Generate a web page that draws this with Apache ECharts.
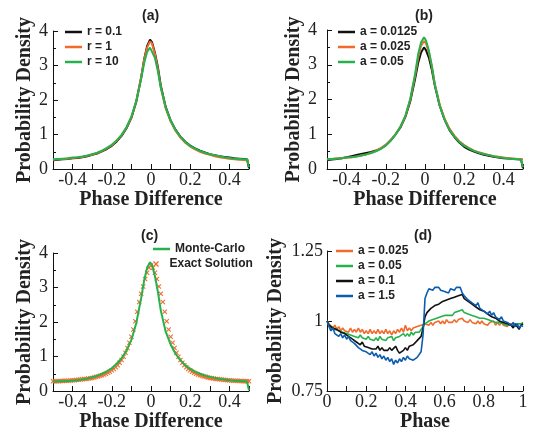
<!DOCTYPE html>
<html><head><meta charset="utf-8">
<script src="https://cdn.jsdelivr.net/npm/echarts@6/dist/echarts.min.js"></script>
<style>html,body{margin:0;padding:0;background:#fff}#c{width:536px;height:434px}</style>
</head><body><div id="c"></div>
<script>
// Phase-difference sample positions for panels (a), (b), (c)
const pdX = [-0.5,-0.475,-0.45,-0.425,-0.4,-0.375,-0.35,-0.325,-0.3,-0.275,-0.25,-0.225,-0.2,-0.175,-0.15,-0.125,-0.1,-0.075,-0.05,-0.035,-0.02,-0.005,0.005,0.02,0.035,0.05,0.075,0.1,0.125,0.15,0.175,0.2,0.225,0.25,0.275,0.3,0.325,0.35,0.375,0.4,0.425,0.45,0.475,0.49,0.5];

// (a)
const aR01 = [0.25,0.27,0.28,0.29,0.31,0.32,0.34,0.37,0.41,0.45,0.51,0.58,0.67,0.8,0.96,1.18,1.48,1.95,2.66,3.18,3.56,3.75,3.68,3.37,2.96,2.42,1.8,1.41,1.14,0.94,0.79,0.68,0.6,0.53,0.48,0.43,0.4,0.37,0.35,0.33,0.31,0.3,0.29,0.28,0.02];
const aR1 = [0.27,0.28,0.29,0.3,0.32,0.33,0.35,0.38,0.42,0.46,0.52,0.6,0.69,0.82,0.98,1.2,1.5,1.97,2.66,3.16,3.52,3.7,3.64,3.33,2.9,2.36,1.76,1.38,1.11,0.91,0.76,0.65,0.57,0.5,0.45,0.41,0.37,0.34,0.32,0.3,0.28,0.27,0.26,0.25,0.25];
const aR10 = [0.28,0.29,0.3,0.31,0.33,0.34,0.36,0.39,0.43,0.47,0.53,0.61,0.7,0.83,0.99,1.21,1.52,1.98,2.62,3.07,3.39,3.52,3.47,3.22,2.84,2.36,1.78,1.4,1.13,0.93,0.78,0.67,0.59,0.52,0.47,0.43,0.4,0.37,0.34,0.32,0.3,0.29,0.28,0.28,0.05];

// (b)
const bA0125 = [0.25,0.27,0.29,0.31,0.34,0.37,0.4,0.43,0.46,0.49,0.53,0.59,0.68,0.82,1.0,1.2,1.5,1.95,2.6,3.05,3.35,3.5,3.42,3.2,2.85,2.4,1.82,1.42,1.12,0.92,0.76,0.64,0.56,0.5,0.45,0.41,0.38,0.35,0.33,0.31,0.3,0.29,0.28,0.27,0.02];
const bA025 = [0.28,0.29,0.3,0.31,0.33,0.34,0.36,0.39,0.42,0.46,0.52,0.6,0.7,0.84,1.0,1.22,1.52,2.0,2.7,3.2,3.55,3.68,3.62,3.35,2.95,2.45,1.85,1.45,1.16,0.96,0.8,0.69,0.6,0.53,0.48,0.44,0.4,0.37,0.35,0.33,0.31,0.3,0.29,0.28,0.28];
const bA05 = [0.28,0.29,0.3,0.31,0.33,0.34,0.36,0.39,0.42,0.46,0.51,0.58,0.68,0.82,0.99,1.22,1.53,2.02,2.75,3.3,3.65,3.79,3.7,3.4,2.96,2.43,1.82,1.42,1.13,0.93,0.78,0.67,0.59,0.52,0.47,0.43,0.4,0.37,0.34,0.32,0.3,0.29,0.28,0.27,0.05];

// (c)
const cMonte = [0.27,0.28,0.28,0.29,0.3,0.31,0.33,0.36,0.4,0.44,0.5,0.57,0.66,0.79,0.95,1.17,1.48,1.97,2.7,3.2,3.57,3.73,3.66,3.33,2.88,2.33,1.72,1.35,1.08,0.89,0.75,0.64,0.56,0.5,0.45,0.41,0.38,0.35,0.33,0.31,0.3,0.29,0.28,0.27,0.02];
const cExact = [0.28,0.28,0.285,0.285,0.29,0.29,0.295,0.3,0.3,0.305,0.31,0.315,0.32,0.325,0.33,0.34,0.345,0.35,0.36,0.37,0.38,0.39,0.41,0.42,0.44,0.46,0.48,0.5,0.53,0.56,0.6,0.64,0.69,0.75,0.82,0.9,0.99,1.11,1.25,1.4,1.57,1.78,2.02,2.3,2.58,2.82,3.03,3.25,3.43,3.57,3.64,
  3.57,3.43,3.25,3.03,2.82,2.58,2.3,2.02,1.78,1.57,1.4,1.25,1.11,0.99,0.9,0.82,0.75,0.69,0.64,0.6,0.56,0.53,0.5,0.48,0.46,0.44,0.42,0.41,0.39,0.38,0.37,0.36,0.35,0.345,0.34,0.33,0.325,0.32,0.315,0.31,0.305,0.3,0.3,0.295,0.29,0.29,0.285,0.285,0.28,0.28];

// (d)
const dA025 = [1.00,0.99,0.995,0.975,0.985,0.97,0.98,0.965,0.975,0.965,0.97,0.96,0.975,0.96,0.97,0.96,0.975,0.96,0.97,0.955,0.965,0.955,0.97,0.955,0.965,0.955,0.97,0.955,0.965,0.955,0.97,0.955,0.965,0.95,0.965,0.955,0.97,0.96,0.975,0.96,0.985,0.965,0.975,0.965,0.975,0.97,0.98,0.975,0.985,0.985,0.99,0.995,0.985,0.995,0.985,0.995,0.99,1.0,0.99,1.0,0.99,1.005,0.995,1.0,0.995,1.005,0.995,1.005,1.0,1.01,1.0,1.005,0.995,1.005,0.995,1.0,0.99,1.0,0.99,1.0,0.99,0.995,0.985,0.995,0.99,1.0,0.985,0.995,0.985,0.995,0.985,0.99,0.98,0.99,0.985,0.99,0.98,0.99,0.985,0.99,0.99];
const dA05 = [1.00,0.985,0.975,0.98,0.97,0.975,0.965,0.97,0.96,0.965,0.955,0.96,0.95,0.955,0.945,0.95,0.94,0.95,0.94,0.945,0.935,0.945,0.935,0.94,0.93,0.94,0.93,0.945,0.935,0.94,0.93,0.94,0.935,0.945,0.93,0.94,0.935,0.945,0.94,0.955,0.945,0.955,0.945,0.96,0.95,0.96,0.965,0.96,0.97,0.98,0.99,0.995,1.0,1.0,1.005,1.0,1.01,1.005,1.015,1.01,1.02,1.015,1.02,1.025,1.02,1.03,1.025,1.035,1.03,1.04,1.03,1.035,1.025,1.03,1.02,1.025,1.015,1.02,1.01,1.015,1.01,1.015,1.005,1.01,1.0,1.005,0.995,1.0,0.995,1.0,0.99,0.995,0.985,0.99,0.985,0.99,0.98,0.99,0.985,0.99,0.995];
const dA1 = [1.00,0.985,0.99,0.975,0.98,0.97,0.975,0.96,0.965,0.955,0.96,0.945,0.95,0.935,0.94,0.925,0.93,0.915,0.925,0.91,0.915,0.905,0.91,0.90,0.905,0.90,0.91,0.895,0.905,0.895,0.90,0.895,0.905,0.895,0.90,0.91,0.895,0.885,0.88,0.895,0.905,0.895,0.91,0.905,0.915,0.92,0.93,0.935,0.945,0.975,1.015,1.03,1.035,1.045,1.04,1.055,1.05,1.06,1.055,1.07,1.065,1.075,1.07,1.08,1.075,1.085,1.08,1.09,1.085,1.095,1.08,1.085,1.07,1.075,1.06,1.065,1.05,1.055,1.04,1.045,1.035,1.04,1.025,1.03,1.015,1.02,1.01,1.015,1.0,1.005,0.995,1.0,0.99,0.995,0.985,0.975,0.99,0.98,0.97,0.985,0.99];
const dA15 = [1.00,0.98,0.965,0.975,0.955,0.96,0.945,0.955,0.94,0.95,0.935,0.945,0.93,0.925,0.92,0.915,0.905,0.91,0.895,0.90,0.89,0.895,0.88,0.89,0.875,0.885,0.87,0.88,0.865,0.875,0.86,0.87,0.855,0.865,0.845,0.86,0.85,0.865,0.855,0.87,0.86,0.875,0.865,0.87,0.86,0.865,0.87,0.875,0.89,0.95,1.08,1.10,1.115,1.12,1.11,1.12,1.115,1.12,1.11,1.115,1.105,1.11,1.10,1.115,1.12,1.11,1.12,1.115,1.12,1.10,1.09,1.095,1.075,1.08,1.065,1.07,1.055,1.065,1.045,1.05,1.035,1.04,1.025,1.035,1.02,1.03,1.015,1.02,1.005,1.015,1.00,1.005,0.995,1.0,0.985,0.995,0.98,0.99,0.975,0.985,0.98];

// tick labels
const ticksPD = ['-0.4','-0.2','0','0.2','0.4'];
const ticksPhase = ['0','0.2','0.4','0.6','0.8','1'];

const grid01 = [];
for (let i = 0; i <= 100; i++) grid01.push(Math.round(i) / 100);
const exactX = grid01.map(v => Math.round((v - 0.5) * 100) / 100);

const BLACK = '#111111', ORANGE = '#f26a2c', GREEN = '#25b24c', BLUE = '#0b5cb0';
const SERIF = 'Liberation Serif', SANS = 'Liberation Sans';
const XMARK = 'path://M0,1.5L1.5,0L5,3.5L8.5,0L10,1.5L6.5,5L10,8.5L8.5,10L5,6.5L1.5,10L0,8.5L3.5,5Z';

function pairs(xs, ys) { return ys.map((y, i) => [xs[i], y]); }
function labelFrom(list) {
  return v => { const s = String(Math.round(v * 10) / 10); return list.indexOf(s) >= 0 ? s : ''; };
}
function xAxis(gi, min, max, name, list) {
  return {
    type: 'value', gridIndex: gi, min: min, max: max, interval: 0.1,
    name: name, nameLocation: 'middle', nameGap: 20,
    nameTextStyle: { fontFamily: SERIF, fontWeight: 'bold', fontSize: 20, color: '#222' },
    axisLine: { show: true, onZero: false, lineStyle: { color: '#111', width: 1 } },
    axisTick: { show: true, inside: true, length: 5, lineStyle: { color: '#111' } },
    splitLine: { show: false },
    axisLabel: { formatter: labelFrom(list), fontFamily: SERIF, fontSize: 18, color: '#222', margin: 2, showMinLabel: true, showMaxLabel: true, hideOverlap: false }
  };
}
function yAxis(gi, min, max, interval, gap, margin, minor) {
  return {
    type: 'value', gridIndex: gi, min: min, max: max, interval: interval,
    name: 'Probability Density', nameLocation: 'middle', nameGap: gap,
    nameTextStyle: { fontFamily: SERIF, fontWeight: 'bold', fontSize: 20, color: '#222' },
    axisLine: { show: true, onZero: false, lineStyle: { color: '#111', width: 1 } },
    axisTick: { show: true, inside: true, length: 5, lineStyle: { color: '#111' } },
    minorTick: { show: minor, splitNumber: 2, length: 3, lineStyle: { color: '#111' } },
    splitLine: { show: false },
    axisLabel: { fontFamily: SERIF, fontSize: 18, color: '#222', margin: margin, showMinLabel: true, showMaxLabel: true }
  };
}
function line(name, gi, data, color, w) {
  return { type: 'line', name: name, xAxisIndex: gi, yAxisIndex: gi, data: data, symbol: 'none', smooth: false,
    lineStyle: { color: color, width: w }, itemStyle: { color: color } };
}
function legend(left, top, names, extra) {
  return Object.assign({ left: left, top: top, orient: 'vertical', padding: 0, itemGap: 3, itemWidth: 17, itemHeight: 2.5,
    icon: 'rect',
    data: names, textStyle: { fontFamily: SANS, fontWeight: 'bold', fontSize: 12, color: '#222', lineHeight: 12 } }, extra || {});
}
function panelTitle(text, left, top) {
  return { text: text, left: left, top: top, padding: 0, textStyle: { fontFamily: SANS, fontWeight: 'bold', fontSize: 14, color: '#222' } };
}

const chart = echarts.init(document.getElementById('c'), null, { renderer: 'canvas' });
chart.setOption({
  animation: false,
  backgroundColor: '#fff',
  title: [panelTitle('(a)', 142, 9), panelTitle('(b)', 415, 9), panelTitle('(c)', 141, 229), panelTitle('(d)', 414, 229)],
  grid: [
    { left: 53, top: 31, width: 196, height: 138 },
    { left: 327, top: 30, width: 196, height: 139 },
    { left: 53, top: 253, width: 196, height: 138 },
    { left: 327, top: 251, width: 196, height: 140 }
  ],
  xAxis: [
    xAxis(0, -0.5, 0.5, 'Phase Difference', ticksPD),
    xAxis(1, -0.5, 0.5, 'Phase Difference', ticksPD),
    xAxis(2, -0.5, 0.5, 'Phase Difference', ticksPD),
    xAxis(3, 0, 1, 'Phase', ticksPhase)
  ],
  yAxis: [
    yAxis(0, 0, 4, 1, 17, 5, true),
    yAxis(1, 0, 4, 1, 20, 10, true),
    yAxis(2, 0, 4, 1, 17, 5, true),
    yAxis(3, 0.75, 1.25, 0.25, 41, 4, false)
  ],
  legend: [
    legend(65, 26, ['r = 0.1', 'r = 1', 'r = 10']),
    legend(338, 26, ['a = 0.0125', 'a = 0.025', 'a = 0.05']),
    legend(153, 243, ['Monte-Carlo']),
    legend(153, 258, ['Exact Solution'], { icon: XMARK, itemHeight: 6, symbolKeepAspect: true, itemStyle: { color: ORANGE, borderWidth: 0, opacity: 1 } }),
    legend(336, 245, ['a = 0.025 ', 'a = 0.05 ', 'a = 0.1 ', 'a = 1.5 '])
  ],
  series: [
    line('r = 0.1', 0, pairs(pdX, aR01), BLACK, 2),
    line('r = 1', 0, pairs(pdX, aR1), ORANGE, 2),
    line('r = 10', 0, pairs(pdX, aR10), GREEN, 2),
    line('a = 0.0125', 1, pairs(pdX, bA0125), BLACK, 2),
    line('a = 0.025', 1, pairs(pdX, bA025), ORANGE, 2),
    line('a = 0.05', 1, pairs(pdX, bA05), GREEN, 2),
    line('Monte-Carlo', 2, pairs(pdX, cMonte), GREEN, 2),
    { type: 'scatter', name: 'Exact Solution', xAxisIndex: 2, yAxisIndex: 2, data: pairs(exactX, cExact),
      symbol: XMARK, symbolSize: 5, itemStyle: { color: ORANGE, opacity: 1 } },
    line('a = 0.025 ', 3, pairs(grid01, dA025), ORANGE, 1.6),
    line('a = 0.05 ', 3, pairs(grid01, dA05), GREEN, 1.6),
    line('a = 0.1 ', 3, pairs(grid01, dA1), BLACK, 1.6),
    line('a = 1.5 ', 3, pairs(grid01, dA15), BLUE, 1.6)
  ]
});
</script>
</body></html>
